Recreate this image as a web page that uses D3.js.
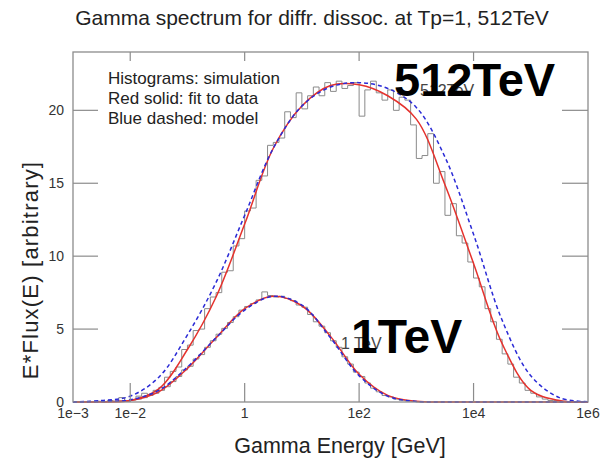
<!DOCTYPE html>
<html>
<head>
<meta charset="utf-8">
<script src="https://cdn.jsdelivr.net/npm/d3@7"></script>
<style>
  html, body { margin: 0; padding: 0; background: #fff; }
  svg { display: block; font-family: "Liberation Sans", Arial, sans-serif; }
</style>
</head>
<body>
<svg id="chart" width="600" height="460"></svg>
<script>
// ---- data ----
const titleText = "Gamma spectrum for diffr. dissoc. at Tp=1, 512TeV";
const xLabel = "Gamma Energy [GeV]";
const yLabel = "E*Flux(E) [arbitrary]";
const legendLines = ["Histograms: simulation", "Red solid: fit to data", "Blue dashed: model"];

const xTickValues = [1e-3, 1e-2, 1, 1e2, 1e4, 1e6];
const xTickLabels = ["1e\u22123", "1e\u22122", "1", "1e2", "1e4", "1e6"];
const yTickValues = [0, 5, 10, 15, 20];

// smooth curves sampled every half decade, log10(E) from -3 to 6
const curveLogE = [-3, -2.5, -2, -1.5, -1, -0.5, 0, 0.5, 1, 1.5, 2, 2.5, 3, 3.5, 4, 4.5, 5, 5.5, 6];
const fit512   = [0, 0.02, 0.1, 0.9, 3.6, 7.2, 12.2, 17.4, 20.3, 21.7, 21.75, 21.0, 19.4, 14.9, 9.5, 4.0, 0.8, 0.1, 0];
const model512 = [0, 0.1, 0.4, 1.7, 4.6, 8.2, 12.8, 17.4, 20.3, 21.6, 21.9, 21.5, 20.2, 16.8, 11.5, 5.6, 1.8, 0.3, 0.02];
const fit1     = [0, 0.02, 0.1, 0.7, 2.3, 4.4, 6.4, 7.25, 6.6, 4.5, 1.9, 0.45, 0.05, 0, 0, 0, 0, 0, 0];
const model1   = [0, 0.03, 0.15, 0.8, 2.4, 4.4, 6.3, 7.25, 6.65, 4.4, 1.8, 0.4, 0.04, 0, 0, 0, 0, 0, 0];

// histograms: bins of 0.1 decade starting at log10(E) = -3
const histStartLogE = -3;
const histBinWidth = 0.1;
const hist512 = [
  0, 0, 0.02, 0, 0.05, 0, 0.1, 0.05, 0.3, 0.05,
  0.15, 0.4, 0.6, 0.5, 0.8, 1.0, 1.7, 2.1, 2.4, 3.6,
  3.9, 4.9, 5.0, 6.4, 7.2, 7.5, 8.9, 9.0, 10.7, 11.2,
  13.1, 13.3, 15.2, 15.5, 17.6, 17.8, 18.1, 19.9, 19.5, 21.2,
  20.1, 21.0, 21.6, 21.0, 21.9, 21.3, 22.0, 21.5, 21.7, 21.9,
  19.6, 21.4, 22.0, 21.2, 20.7, 21.4, 20.0, 20.9, 20.7, 19.0,
  16.7, 16.9, 18.4, 15.0, 15.8, 12.8, 13.6, 11.4, 10.9, 9.6,
  8.5, 7.9, 6.4, 5.5, 4.3, 3.3, 2.6, 1.7, 1.3, 0.8,
  0.6, 0.35, 0.2, 0.1, 0.1, 0.05, 0, 0, 0, 0
];
const hist1 = [
  0, 0, 0.02, 0, 0.03, 0.03, 0.05, 0.04, 0.08, 0.1,
  0.15, 0.2, 0.3, 0.45, 0.6, 0.8, 1.05, 1.4, 1.75, 2.2,
  2.45, 2.95, 3.25, 3.75, 4.2, 4.65, 5.05, 5.45, 5.85, 6.3,
  6.55, 6.75, 7.0, 7.55, 7.3, 7.2, 7.25, 7.1, 6.95, 6.65,
  6.5, 6.0, 5.5, 5.2, 4.75, 4.2, 3.75, 3.1, 2.6, 2.05,
  1.75, 1.3, 0.95, 0.7, 0.45, 0.35, 0.2, 0.12, 0.08, 0.05,
  0, 0, 0, 0, 0, 0, 0, 0, 0, 0,
  0, 0, 0, 0, 0, 0, 0, 0, 0, 0,
  0, 0, 0, 0, 0, 0, 0, 0, 0, 0
];

// ---- drawing ----
const svg = d3.select("#chart");
const L = 73, R = 588, T = 52, B = 402;
const x = d3.scaleLog().domain([1e-3, 1e6]).range([L, R]);
const y = d3.scaleLinear().domain([0, 24]).range([B, T]);

const frameColor = "#8c8c8c";
const textColor = "#333";

// title
svg.append("text").attr("x", 312).attr("y", 25).attr("text-anchor", "middle")
  .attr("font-size", 21).attr("fill", "#222").text(titleText);

// histograms (step outlines)
function histPoints(vals) {
  const pts = [];
  vals.forEach((v, i) => {
    const lo = Math.pow(10, histStartLogE + i * histBinWidth);
    const hi = Math.pow(10, histStartLogE + (i + 1) * histBinWidth);
    pts.push([lo, v], [hi, v]);
  });
  return pts;
}
const histLine = d3.line().x(d => x(d[0])).y(d => y(d[1]));
[hist512, hist1].forEach(h => {
  svg.append("path").attr("d", histLine(histPoints(h)))
    .attr("fill", "none").attr("stroke", "#8a8a8a").attr("stroke-width", 1);
});

// smooth curves
const smooth = d3.line().x(d => x(Math.pow(10, d[0]))).y(d => y(Math.max(0, d[1])))
  .curve(d3.curveCatmullRom.alpha(0.5));
function zipCurve(vals) { return curveLogE.map((e, i) => [e, vals[i]]); }

[fit512, fit1].forEach(c => {
  svg.append("path").attr("d", smooth(zipCurve(c)))
    .attr("fill", "none").attr("stroke", "#e5322d").attr("stroke-width", 1.5);
});
[model512, model1].forEach(c => {
  svg.append("path").attr("d", smooth(zipCurve(c)))
    .attr("fill", "none").attr("stroke", "#2b2bd6").attr("stroke-width", 1.5)
    .attr("stroke-dasharray", "4,3");
});

// frame
svg.append("rect").attr("x", L).attr("y", T).attr("width", R - L).attr("height", B - T)
  .attr("fill", "none").attr("stroke", frameColor).attr("stroke-width", 1.3);

// x ticks (bottom inward and top inward)
const xTickMarks = xTickValues.filter(v => v > 1e-3 && v < 1e6);
xTickMarks.forEach(v => {
  svg.append("line").attr("x1", x(v)).attr("x2", x(v)).attr("y1", B).attr("y2", B - 19)
    .attr("stroke", frameColor).attr("stroke-width", 1.2);
  svg.append("line").attr("x1", x(v)).attr("x2", x(v)).attr("y1", T).attr("y2", T + 9)
    .attr("stroke", frameColor).attr("stroke-width", 1.2);
});
xTickValues.forEach((v, i) => {
  svg.append("text").attr("x", x(v)).attr("y", 418).attr("text-anchor", "middle")
    .attr("font-size", 14).attr("fill", textColor).text(xTickLabels[i]);
});

// y ticks (left and right inward)
yTickValues.forEach(v => {
  if (v > 0) {
    svg.append("line").attr("x1", L).attr("x2", L + 25).attr("y1", y(v)).attr("y2", y(v))
      .attr("stroke", frameColor).attr("stroke-width", 1.2);
    svg.append("line").attr("x1", R - 26).attr("x2", R).attr("y1", y(v)).attr("y2", y(v))
      .attr("stroke", frameColor).attr("stroke-width", 1.2);
  }
  svg.append("text").attr("x", 64).attr("y", y(v) + 5).attr("text-anchor", "end")
    .attr("font-size", 14).attr("fill", textColor).text(v);
});

// axis labels
svg.append("text").attr("x", 340).attr("y", 453).attr("text-anchor", "middle")
  .attr("font-size", 21.5).attr("fill", "#222").text(xLabel);
svg.append("text").attr("transform", "translate(38,270) rotate(-90)").attr("text-anchor", "middle")
  .attr("font-size", 22).attr("letter-spacing", 1.2).attr("fill", "#222").text(yLabel);

// legend text
legendLines.forEach((s, i) => {
  svg.append("text").attr("x", 108).attr("y", 84 + i * 20)
    .attr("font-size", 17).attr("fill", "#222").text(s);
});

// series labels (small then big)
svg.append("text").attr("x", 420).attr("y", 96).attr("font-size", 16).attr("fill", "#444").text("512TeV");
svg.append("text").attr("x", 394).attr("y", 96).attr("font-size", 47).attr("font-weight", "bold")
  .attr("fill", "#000").text("512TeV");
svg.append("text").attr("x", 341).attr("y", 349).attr("font-size", 16).attr("fill", "#444").text("1 TeV");
svg.append("text").attr("x", 351).attr("y", 353).attr("font-size", 48).attr("font-weight", "bold")
  .attr("fill", "#000").text("1TeV");
</script>
</body>
</html>
